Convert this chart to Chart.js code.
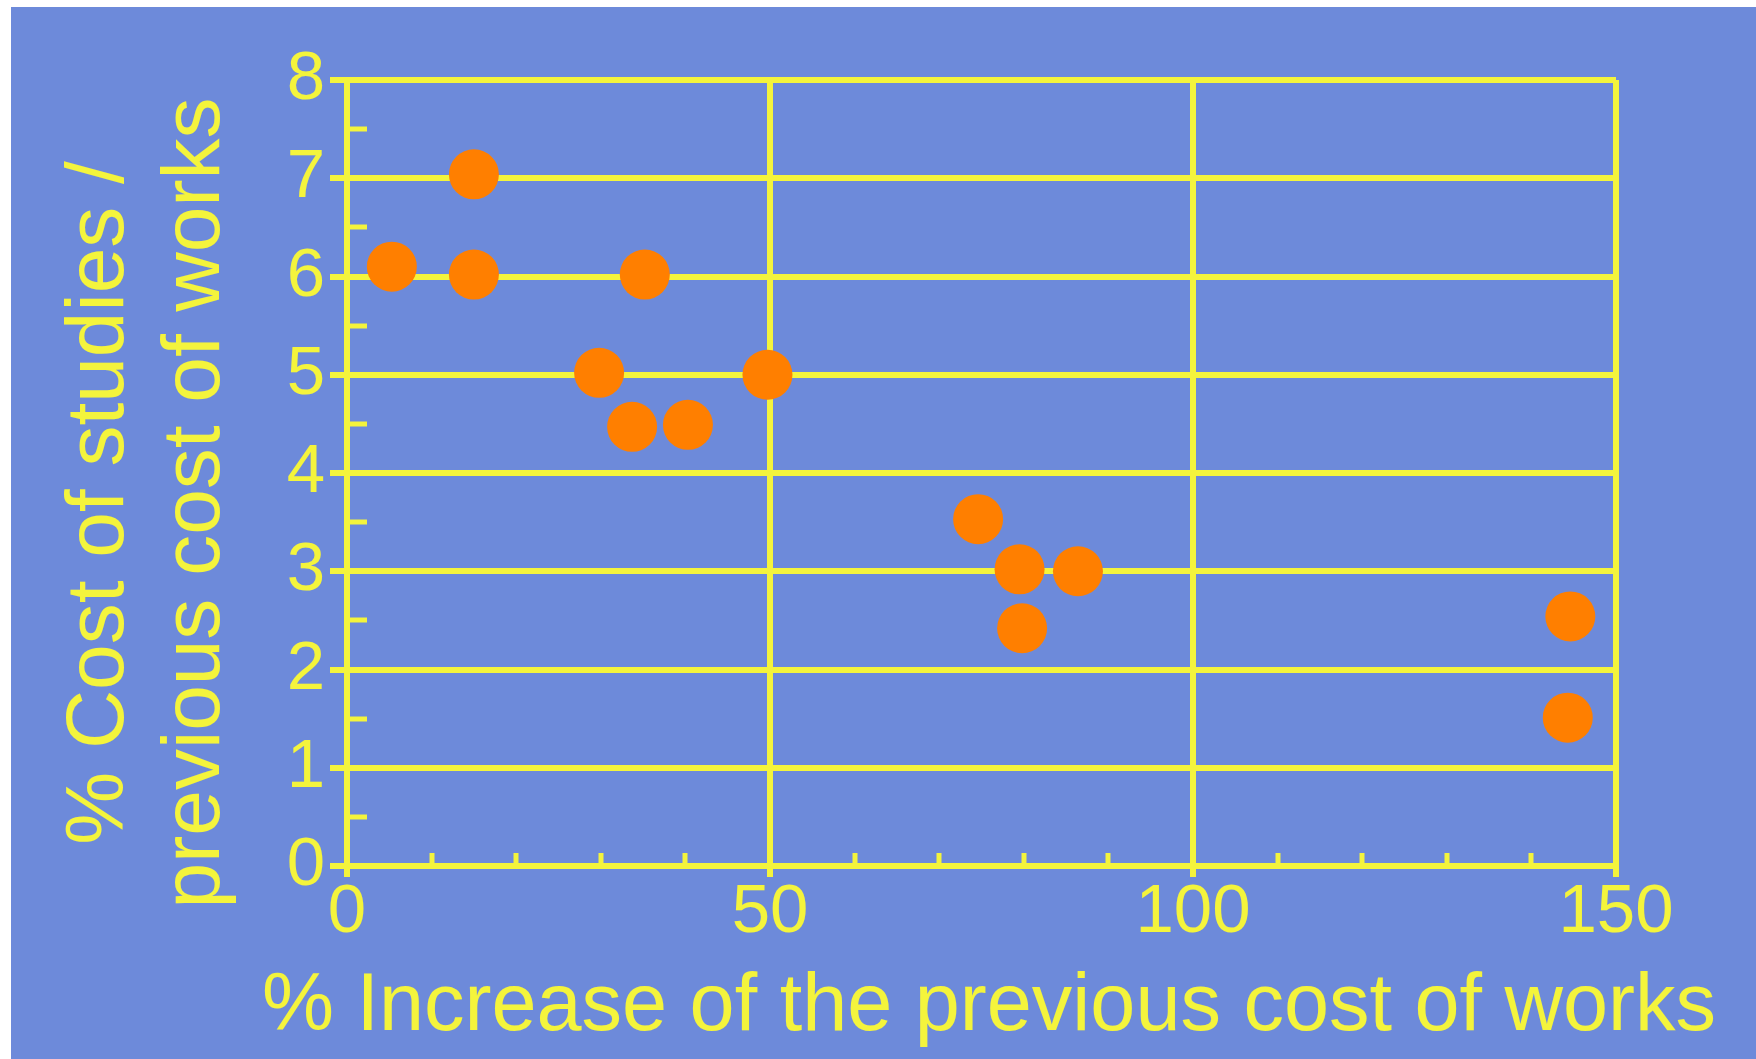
<!DOCTYPE html>
<html>
<head>
<meta charset="utf-8">
<title>Cost of studies vs increase of cost of works</title>
<script src="https://cdn.jsdelivr.net/npm/chart.js@4.4.1/dist/chart.umd.min.js"></script>
<style>
  body { margin: 0; background: #ffffff; }
  #wrap { position: absolute; left: 11px; top: 7px; }
  canvas { display: block; background: #6d8ada; }
</style>
</head>
<body>
<div id="wrap"><canvas id="costChart" width="1745" height="1052"></canvas></div>
<script>
// % increase of the previous cost of works (x) and % cost of studies (y)
const increase = [5.3, 15, 15, 35.2, 29.8, 49.7, 33.7, 40.3, 74.6, 79.5, 86.4, 79.8, 144.6, 144.3];
const studyCost = [6.1, 7.04, 6.02, 6.02, 5.02, 5.0, 4.47, 4.49, 3.53, 3.02, 3.0, 2.42, 2.54, 1.51];

const xTitle = '% Increase of the previous cost of works';
const yTitle = ['% Cost of studies /', 'previous cost of works'];

const yellow = '#f4f43c';
const orange = '#ff7f00';
const fontFamily = '"Liberation Sans", Arial, sans-serif';

Chart.defaults.font.family = fontFamily;

// short inner ticks between the labelled ones
const minorTicks = {
  id: 'minorTicks',
  beforeDatasetsDraw(chart) {
    const { ctx, chartArea, scales: { x, y } } = chart;
    ctx.save();
    ctx.strokeStyle = yellow;
    ctx.lineWidth = 5;
    ctx.beginPath();
    for (let v = 0.5; v < y.max; v += 1) {
      const py = Math.round(y.getPixelForValue(v));
      ctx.moveTo(chartArea.left, py);
      ctx.lineTo(chartArea.left + 20, py);
    }
    for (let v = 10; v < x.max; v += 10) {
      if (v % 50 === 0) continue;
      const px = Math.round(x.getPixelForValue(v));
      ctx.moveTo(px, chartArea.bottom);
      ctx.lineTo(px, chartArea.bottom - 13);
    }
    ctx.stroke();
    ctx.restore();
  }
};

// axis titles drawn by hand: the x title is wider than the plot and
// the scale title would squeeze it, the y title is two lines
const axisTitles = {
  id: 'axisTitles',
  afterDraw(chart) {
    const { ctx } = chart;
    ctx.save();
    ctx.fillStyle = yellow;
    ctx.textAlign = 'center';
    ctx.textBaseline = 'alphabetic';

    ctx.font = '81px ' + fontFamily;
    ctx.fillText(xTitle, 978, 1023);

    ctx.font = '82px ' + fontFamily;
    const baselines = [112, 208];
    yTitle.forEach((line, i) => {
      ctx.save();
      ctx.translate(baselines[i], 496);
      ctx.rotate(-Math.PI / 2);
      ctx.fillText(line, 0, 0);
      ctx.restore();
    });
    ctx.restore();
  }
};

const ctx = document.getElementById('costChart').getContext('2d');

const costChart = new Chart(ctx, {
  type: 'scatter',
  data: {
    datasets: [{
      data: increase.map((v, i) => ({ x: v, y: studyCost[i] })),
      backgroundColor: orange,
      borderWidth: 0,
      pointRadius: 25,
      pointHoverRadius: 25
    }]
  },
  options: {
    responsive: false,
    animation: false,
    layout: { padding: { top: 73, right: 140, bottom: 0, left: 0 } },
    plugins: { legend: { display: false }, tooltip: { enabled: false } },
    scales: {
      x: {
        type: 'linear',
        position: 'bottom',
        min: 0,
        max: 150,
        ticks: { stepSize: 50, color: yellow, font: { size: 69, lineHeight: 1 }, padding: 1, maxRotation: 0 },
        grid: { color: yellow, lineWidth: 6, tickLength: 11, tickColor: yellow, tickWidth: 6 },
        border: { color: yellow, width: 6 },
        afterFit(scale) { scale.height = 193; }
      },
      y: {
        min: 0,
        max: 8,
        ticks: { stepSize: 1, color: yellow, font: { size: 69, lineHeight: 1 }, padding: 5 },
        grid: { color: yellow, lineWidth: 6, tickLength: 17, tickColor: yellow, tickWidth: 6 },
        border: { color: yellow, width: 6 },
        afterFit(scale) { scale.width = 336; }
      }
    }
  },
  plugins: [minorTicks, axisTitles]
});
</script>
</body>
</html>
